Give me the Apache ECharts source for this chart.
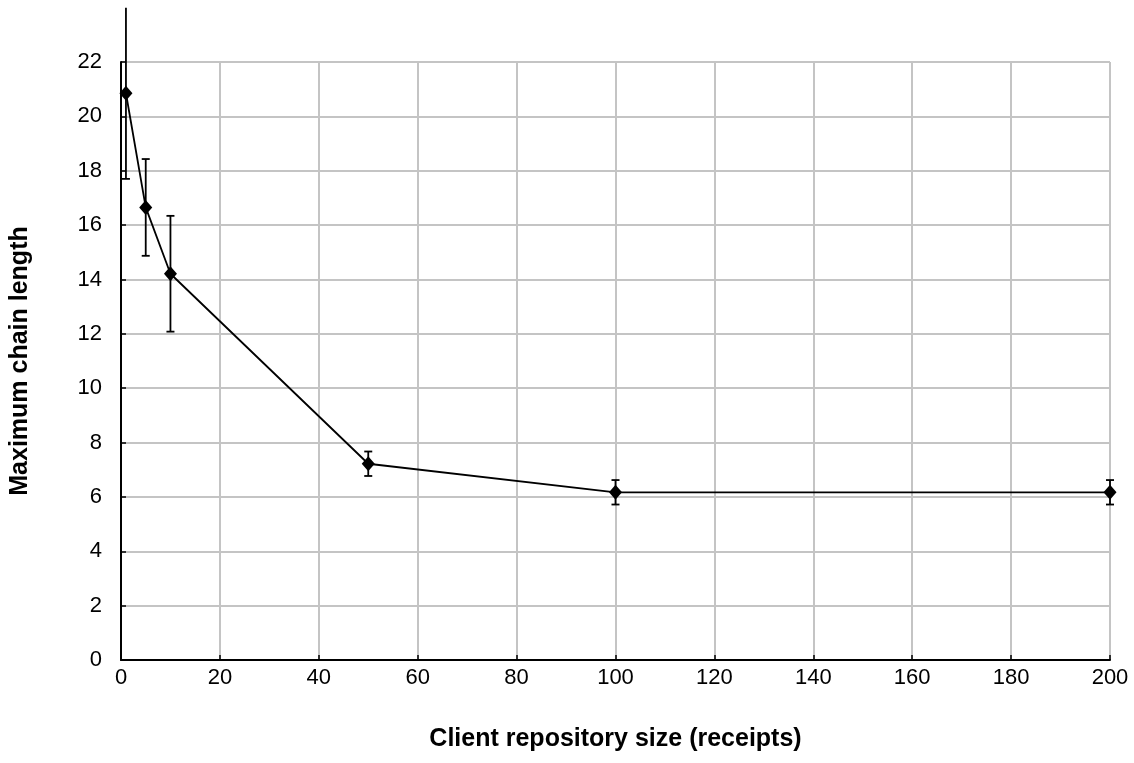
<!DOCTYPE html>
<html>
<head>
<meta charset="utf-8">
<script src="https://cdn.jsdelivr.net/npm/echarts@6/dist/echarts.min.js"></script>
<style>
  html, body { margin: 0; padding: 0; background: #fff; }
  #chart { width: 1134px; height: 763px; }
</style>
</head>
<body>
<div id="chart"></div>
<script>
// Client repository size (receipts)
const repoSizes = [1, 5, 10, 50, 100, 200];
// Mean maximum chain length
const chainLength = [20.85, 16.65, 14.21, 7.22, 6.17, 6.17];
// Half-width of the error bar at each point
const chainError = [3.15, 1.78, 2.13, 0.45, 0.45, 0.45];

const Y_MAX = 22;
const FONT = '"Liberation Sans", Arial, sans-serif';

const linePoints = repoSizes.map((x, i) => [x, chainLength[i]]);
const errorRows = repoSizes.map((x, i) => [x, chainLength[i] - chainError[i], chainLength[i] + chainError[i]]);

const chart = echarts.init(document.getElementById('chart'));

chart.setOption({
  animation: false,
  backgroundColor: '#ffffff',
  grid: { left: 119, right: 24, top: 62, bottom: 103, containLabel: false },
  xAxis: {
    type: 'value',
    min: 0, max: 200, interval: 20,
    name: 'Client repository size (receipts)',
    nameLocation: 'middle',
    nameGap: 67,
    nameTextStyle: { fontFamily: FONT, fontSize: 25, fontWeight: 'bold', color: '#000' },
    axisLine: { show: true, onZero: false, lineStyle: { color: '#000', width: 2 } },
    axisTick: { show: true, inside: true, length: 5, lineStyle: { color: '#000', width: 1.5 } },
    axisLabel: { fontFamily: FONT, fontSize: 22, color: '#000', margin: 7 },
    splitLine: { show: true, lineStyle: { color: '#c4c4c4', width: 2 } }
  },
  yAxis: {
    type: 'value',
    min: 0, max: Y_MAX, interval: 2,
    name: 'Maximum chain length',
    nameLocation: 'middle',
    nameRotate: 90,
    nameGap: 88,
    nameTextStyle: { fontFamily: FONT, fontSize: 25, fontWeight: 'bold', color: '#000' },
    axisLine: { show: true, onZero: false, lineStyle: { color: '#000', width: 2 } },
    axisTick: { show: true, inside: true, length: 5, lineStyle: { color: '#000', width: 1.5 } },
    axisLabel: { fontFamily: FONT, fontSize: 22, color: '#000', margin: 19 },
    splitLine: { show: true, lineStyle: { color: '#c4c4c4', width: 2 } }
  },
  series: [
    {
      type: 'custom',
      name: 'error',
      clip: false,
      z: 3,
      data: errorRows,
      encode: { x: 0, y: [1, 2] },
      renderItem: function (params, api) {
        const x = api.value(0);
        const lo = api.value(1);
        const hi = api.value(2);
        const pLo = api.coord([x, lo]);
        const pHi = api.coord([x, hi]);
        const cap = 4;
        const style = { stroke: '#000', lineWidth: 1.8 };
        const children = [
          { type: 'line', shape: { x1: pLo[0], y1: pLo[1], x2: pHi[0], y2: pHi[1] }, style: style },
          { type: 'line', shape: { x1: pLo[0] - cap, y1: pLo[1], x2: pLo[0] + cap, y2: pLo[1] }, style: style }
        ];
        if (hi <= Y_MAX) {
          children.push({ type: 'line', shape: { x1: pHi[0] - cap, y1: pHi[1], x2: pHi[0] + cap, y2: pHi[1] }, style: style });
        }
        return { type: 'group', children: children };
      }
    },
    {
      type: 'line',
      name: 'Maximum chain length',
      data: linePoints,
      z: 4,
      symbol: 'diamond',
      symbolSize: [13, 15],
      showAllSymbol: true,
      lineStyle: { color: '#000', width: 1.8 },
      itemStyle: { color: '#000' }
    }
  ]
});
</script>
</body>
</html>
